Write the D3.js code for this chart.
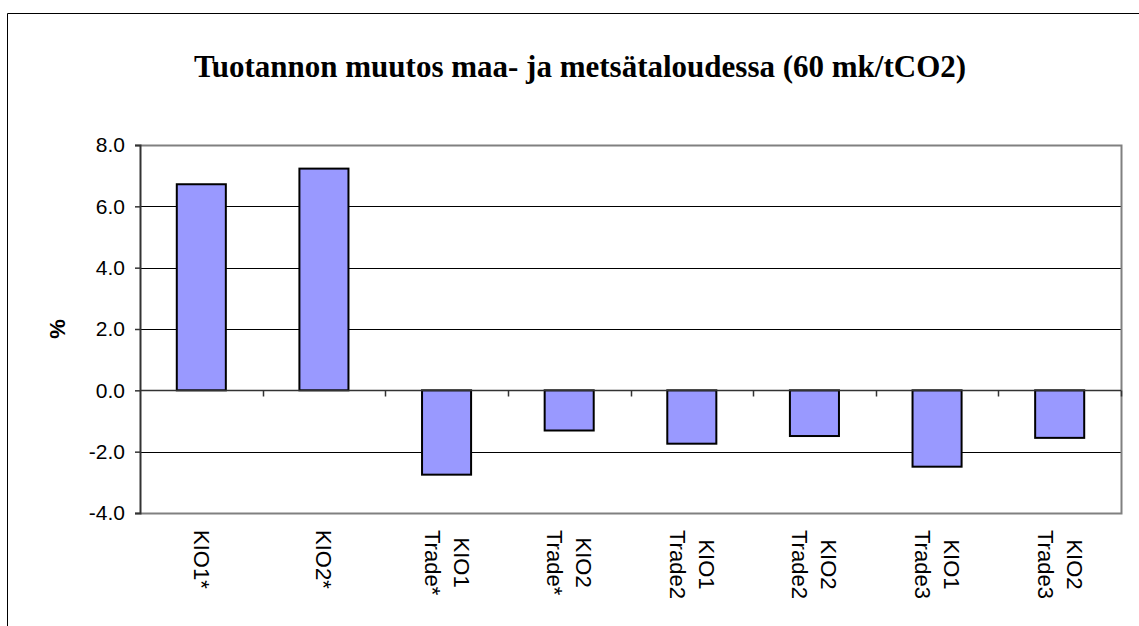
<!DOCTYPE html>
<html><head><meta charset="utf-8">
<script src="https://cdn.jsdelivr.net/npm/d3@7"></script>
<style>
html,body{margin:0;padding:0;background:#fff;}
svg{display:block;}
</style></head>
<body>
<svg id="c" width="1139" height="626"></svg>
<script>
const categories = [["KIO1*"],["KIO2*"],["KIO1","Trade*"],["KIO2","Trade*"],["KIO1","Trade2"],["KIO2","Trade2"],["KIO1","Trade3"],["KIO2","Trade3"]];
const values = [6.72, 7.23, -2.75, -1.31, -1.74, -1.49, -2.49, -1.55];
const yTicks = [-4, -2, 0, 2, 4, 6, 8];
const titleText = "Tuotannon muutos maa- ja metsätaloudessa (60 mk/tCO2)";
const yLabel = "%";

const svg = d3.select("#c");
const L = 140, R = 1121, T = 145, B = 513;

// outer frame
svg.append("path").attr("d", `M7.5,626 L7.5,13.5 L1139,13.5`).attr("fill","none").attr("stroke","#000").attr("stroke-width",1);

const x = d3.scaleBand().domain(d3.range(categories.length)).range([L, R]).paddingInner(0.6).paddingOuter(0.3);
const xc = d3.scaleBand().domain(d3.range(categories.length)).range([L, R]);
const y = d3.scaleLinear().domain([-4, 8]).range([B, T]);

// gridlines
svg.append("g").selectAll("line").data(yTicks.filter(t => t !== 0 && t !== 8 && t !== -4)).join("line")
  .attr("x1", L).attr("x2", R).attr("y1", d => Math.round(y(d)) + 0.5).attr("y2", d => Math.round(y(d)) + 0.5)
  .attr("stroke", "#000").attr("stroke-width", 1);

// plot border (top, right, bottom) gray
svg.append("path").attr("d", `M${L},${Math.round(T)+0.5} H${R+0.5} V${Math.round(B)+0.5} H${L}`)
  .attr("fill","none").attr("stroke","#808080").attr("stroke-width",2);

// bars
svg.append("g").selectAll("rect").data(values).join("rect")
  .attr("x", (d, i) => x(i))
  .attr("width", x.bandwidth())
  .attr("y", d => y(Math.max(0, d)))
  .attr("height", d => Math.abs(y(d) - y(0)))
  .attr("fill", "#9999FF").attr("stroke", "#000").attr("stroke-width", 2);

// y axis
const fmt = d3.format(".1f");
const yAxis = d3.axisLeft(y).tickValues(yTicks).tickFormat(d => fmt(d).replace("\u2212", "-")).tickSize(5).tickPadding(10);
const gy = svg.append("g").attr("transform", `translate(${L},0)`).call(yAxis);
gy.select(".domain").attr("stroke", "#333").attr("stroke-width", 2);
gy.selectAll(".tick line").attr("stroke", "#333").attr("stroke-width", 1.5);
gy.selectAll("text").attr("font-family", "Liberation Sans, Arial, sans-serif").attr("font-size", 21).attr("fill", "#000");

// zero line with category ticks
const z = Math.round(y(0)) + 0.5;
svg.append("line").attr("x1", L).attr("x2", R).attr("y1", z).attr("y2", z).attr("stroke", "#333").attr("stroke-width", 1.5);
svg.append("g").selectAll("line").data(d3.range(1, categories.length + 1)).join("line")
  .attr("x1", i => Math.round(L + i * xc.step()) + 0.5).attr("x2", i => Math.round(L + i * xc.step()) + 0.5)
  .attr("y1", z).attr("y2", z + 6).attr("stroke", "#333").attr("stroke-width", 1.5);

// x labels (rotated 90deg clockwise)
const lineH = 29;
const xl = svg.append("g");
categories.forEach((lines, i) => {
  const cx = xc(i) + xc.bandwidth() / 2;
  const g = xl.append("g").attr("transform", `translate(${cx},530) rotate(90)`);
  const n = lines.length;
  const texts = lines.map((s, k) => g.append("text")
    .attr("font-family", "Liberation Sans, Arial, sans-serif").attr("font-size", 22)
    .attr("fill", "#000")
    .attr("dominant-baseline", "central")
    .attr("y", (k - (n - 1) / 2) * lineH)
    .text(s));
  const lens = texts.map(t => t.node().getComputedTextLength());
  const maxLen = Math.max(...lens);
  texts.forEach((t, k) => t.attr("x", (maxLen - lens[k]) / 2));
});

// y label
svg.append("text").attr("transform", `translate(57,${(T + B) / 2}) rotate(-90)`)
  .attr("text-anchor", "middle").attr("dominant-baseline", "central")
  .attr("font-family", "Liberation Sans, Arial, sans-serif").attr("font-weight", "bold").attr("font-size", 22)
  .text(yLabel);

// title
svg.append("text").attr("x", 580).attr("y", 77).attr("text-anchor", "middle")
  .attr("font-family", "Liberation Serif, Times New Roman, serif").attr("font-weight", "bold").attr("font-size", 31)
  .text(titleText);
</script>
</body></html>
